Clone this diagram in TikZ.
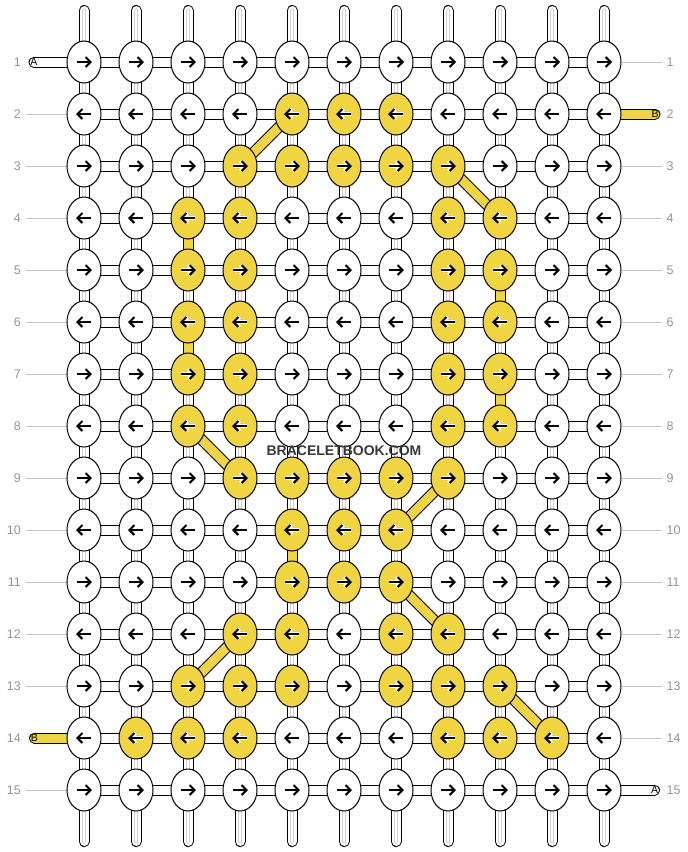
\documentclass[tikz,border=0pt]{standalone}
\usepackage{fontspec}
\setmainfont{Liberation Sans}
\usetikzlibrary{shapes.geometric,arrows.meta,backgrounds}
\definecolor{threadB}{HTML}{F0D442}
\begin{document}
\begin{tikzpicture}[x=1pt,y=-1pt,knot node/.style={ellipse, draw=black, line width=1pt, minimum width=34pt, minimum height=42pt, inner sep=0pt},warp/.style={line width=1pt, double=white, double distance=9pt, line cap=round},warp core/.style={draw=gray!35, line width=0.8pt, double=white, double distance=2.4pt, line cap=round},weft/.style={line width=1pt, double=white, double distance=9pt, line cap=round},carry/.style={line width=1pt, double=threadB, double distance=9pt},row label/.style={font=\fontsize{12.5}{14}\selectfont, text=black!42, inner sep=0pt},tag node/.style={font=\fontsize{10.5}{11}\selectfont, inner sep=0pt},label line/.style={draw=gray!45, line width=0.8pt},knot arrow/.style={line width=2pt, -{Straight Barb[length=5pt,width=10pt]}},arrow halo/.style={knot arrow, draw=white, line width=3.6pt}]%
  % Knots in colour B%
\foreach \r/\cl in {2/{5,6,7},3/{4,5,6,7,8},4/{3,4,8,9},5/{3,4,8,9},6/{3,4,8,9},7/{3,4,8,9},8/{3,4,8,9},9/{4,5,6,7,8},10/{5,6,7},11/{5,6,7},12/{4,5,7,8},13/{3,4,5,7,8,9},14/{2,3,4,8,9,10}}{\foreach \c in \cl {\expandafter\gdef\csname yb\r-\c\endcsname{}}}%
  % Knots%
\foreach \r in {1,...,15}{\foreach \c in {1,...,11}{\ifcsname yb\r-\c\endcsname\def\kfill{threadB}\else\def\kfill{white}\fi\node[knot node, fill=\kfill] (k\r-\c) at ({32+52*\c},{10+52*\r}) {};}}%
  % Row numbers%
\foreach \r in {1,...,15}{\node[row label, anchor=east] (ln\r) at (21,{10+52*\r}) {\r};\node[row label, anchor=west] (rn\r) at (666.5,{10+52*\r}) {\r};}%
  % Thread ends%
\node[tag node] (tA1) at (34,62) {A};%
\node[tag node] (tB14) at (34.5,738) {B};%
\node[tag node] (tB2) at (655,114) {B};%
\node[tag node] (tA15) at (654.5,790) {A};%
  % Knot arrows%
\foreach \r in {1,3,...,15}{\foreach \c in {1,...,11}{\draw[arrow halo] ([xshift=-7pt]k\r-\c.center) -- ([xshift=8pt]k\r-\c.center);\draw[knot arrow] ([xshift=-7pt]k\r-\c.center) -- ([xshift=8pt]k\r-\c.center);}}%
\foreach \r in {2,4,...,14}{\foreach \c in {1,...,11}{\draw[arrow halo] ([xshift=7pt]k\r-\c.center) -- ([xshift=-8pt]k\r-\c.center);\draw[knot arrow] ([xshift=7pt]k\r-\c.center) -- ([xshift=-8pt]k\r-\c.center);}}%
\begin{scope}[on background layer]%
  % Warp threads%
\foreach \c in {1,...,11}{\coordinate (top\c) at ({32+52*\c},10.5);\coordinate (bot\c) at ({32+52*\c},841.5);\draw[warp] (top\c) -- (bot\c);\draw[warp core] (top\c) -- (bot\c);}%
  % Rows%
\foreach \r in {1,...,15}{\draw[weft] (k\r-1.center) -- (k\r-11.center);}%
\draw[weft] (tA1.center) -- (k1-1.center);%
\draw[weft, double=threadB] (tB14.center) -- (k14-1.center);%
\draw[weft, double=threadB] (k2-11.center) -- (tB2.center);%
\draw[weft] (k15-11.center) -- (tA15.center);%
\foreach \r in {2,3,4,5,6,7,8,9,10,11,12,13,15}{\draw[label line] ([xshift=5pt]ln\r.east) -- (k\r-1.west);}%
\foreach \r in {1,3,4,5,6,7,8,9,10,11,12,13,14}{\draw[label line] (k\r-11.east) -- ([xshift=-5pt]rn\r.west);}%
  % Thread B carried between knots%
\foreach \ka/\kb in {k4-3/k5-3,k6-3/k7-3,k5-9/k6-9,k7-9/k8-9,k10-5/k11-5,k2-5/k3-4,k3-8/k4-9,k8-3/k9-4,k9-8/k10-7,k11-7/k12-8,k12-4/k13-3,k13-9/k14-10}{\draw[carry] (\ka.center) -- (\kb.center);}%
\end{scope}%
\node[font=\fontsize{14}{16}\selectfont\bfseries, text=black!78, inner sep=0pt] (mark) at (344,451) {BRACELETBOOK.COM};%
\path[use as bounding box] (0,0) rectangle (688,852);%
\end{tikzpicture}
\end{document}
